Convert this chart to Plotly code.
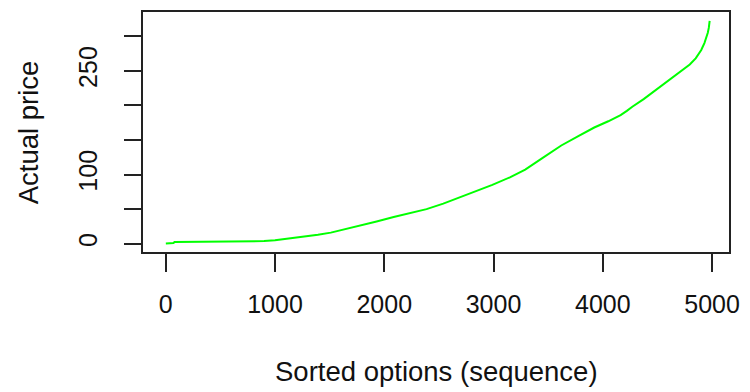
import plotly.graph_objects as go

# Sorted option index and actual price
seq_index = [1, 70, 80, 300, 600, 900, 1000, 1137, 1257, 1393, 1511, 1650, 1784,
             1930, 2086, 2240, 2387, 2540, 2688, 2840, 2989, 3150, 3290, 3450,
             3620, 3780, 3922, 4050, 4163, 4220, 4270, 4374, 4494, 4600, 4675, 4740,
             4796, 4850, 4901, 4930, 4945, 4961, 4970, 4978]
price = [0.3, 1.0, 2.3, 2.6, 3.0, 3.8, 5.0, 7.5, 10, 13, 16, 21, 26,
         32, 38.5, 44, 50, 58, 67, 76, 85, 96, 107, 124,
         142, 156, 168, 177, 186, 192, 198, 209, 223, 236, 245, 252,
         259, 268, 280, 290, 296, 305, 312, 322]

x_ticks = [0, 1000, 2000, 3000, 4000, 5000]
y_ticks = [0, 50, 100, 150, 200, 250, 300]
y_tick_text = ["0", "", "100", "", "", "250", ""]

FONT = "Liberation Sans, Arial, sans-serif"

fig = go.Figure()
fig.add_trace(go.Scatter(x=seq_index, y=price, mode="lines",
                         line=dict(color="#00FF00", width=2),
                         showlegend=False, hoverinfo="skip"))

fig.update_layout(
    width=750, height=392,
    margin=dict(l=143, r=13, t=10, b=139.5),
    paper_bgcolor="white", plot_bgcolor="white",
    font=dict(family=FONT, size=25, color="black"),
    xaxis=dict(range=[-208, 5155], tickvals=x_ticks,
               ticktext=[str(v) for v in x_ticks],
               showgrid=False, zeroline=False,
               showline=True, mirror=True, linecolor="#222", linewidth=1.5,
               ticks="outside", ticklen=18, tickwidth=1.5, tickcolor="#222",
               ticklabelstandoff=11, tickfont=dict(size=25, color="#111")),
    yaxis=dict(range=[-12.0, 335], tickvals=y_ticks, ticktext=y_tick_text,
               tickangle=-90,
               showgrid=False, zeroline=False,
               showline=True, mirror=True, linecolor="#222", linewidth=1.5,
               ticks="outside", ticklen=17, tickwidth=1.5, tickcolor="#222",
               ticklabelstandoff=17, tickfont=dict(size=25, color="#111")),
    annotations=[
        dict(text="Sorted options (sequence)", xref="paper", yref="paper",
             x=0.5, y=-0.497, xanchor="center", yanchor="middle",
             showarrow=False, font=dict(size=27.5, color="#111")),
        dict(text="Actual price", xref="paper", yref="paper",
             x=-0.1957, y=0.5, xanchor="center", yanchor="middle",
             textangle=-90, showarrow=False, font=dict(size=27.5, color="#111")),
    ],
)

fig.write_html(
    "out.html",
    config={"displayModeBar": False},
    post_script="document.body.style.margin='0';document.body.style.overflow='hidden';",
)
